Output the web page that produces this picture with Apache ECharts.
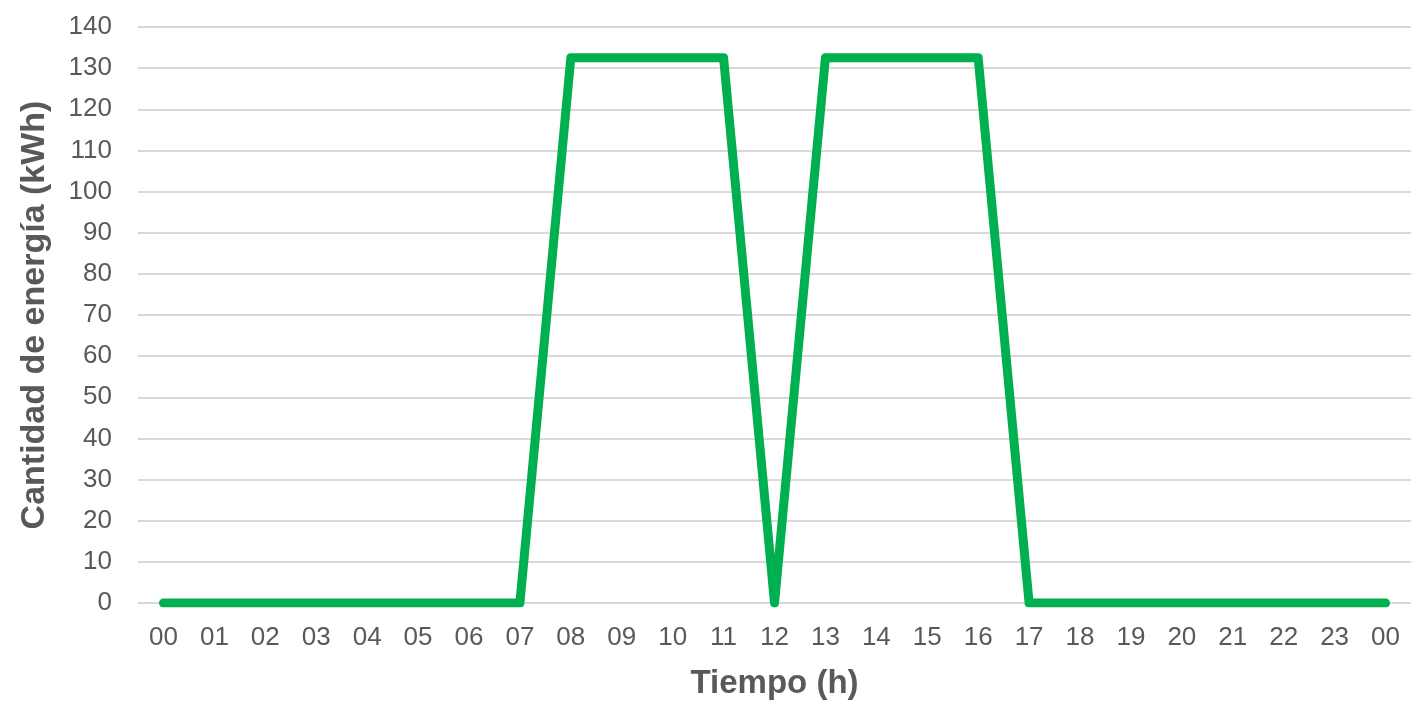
<!DOCTYPE html>
<html><head><meta charset="utf-8">
<script src="https://cdn.jsdelivr.net/npm/echarts@6/dist/echarts.min.js"></script>
<style>html,body{margin:0;padding:0;background:#fff}#c{width:1411px;height:705px}</style>
</head><body><div id="c"></div>
<script>
const categories = ['00','01','02','03','04','05','06','07','08','09','10','11','12','13','14','15','16','17','18','19','20','21','22','23','00'];
const energy = [0,0,0,0,0,0,0,0,132.5,132.5,132.5,132.5,0,132.5,132.5,132.5,132.5,0,0,0,0,0,0,0,0];
const yMin = 0, yMax = 140, yStep = 10;
const chart = echarts.init(document.getElementById('c'));
chart.setOption({
  animation:false,
  grid:{left:138,right:0,top:27,bottom:100},
  xAxis:{type:'category',data:categories,boundaryGap:true,
    axisLine:{show:false},axisTick:{show:false},
    axisLabel:{fontFamily:'Liberation Sans',fontSize:26,color:'#595959',margin:22},
    name:'Tiempo (h)',nameLocation:'middle',nameGap:64,
    nameTextStyle:{fontFamily:'Liberation Sans',fontSize:33,fontWeight:'bold',color:'#595959'}},
  yAxis:{type:'value',min:yMin,max:yMax,interval:yStep,
    axisLine:{show:false},axisTick:{show:false},
    splitLine:{lineStyle:{color:'#d9d9d9',width:2}},
    axisLabel:{fontFamily:'Liberation Sans',fontSize:26,color:'#595959',margin:26},
    name:'Cantidad de energía (kWh)',nameLocation:'middle',nameGap:86,
    nameTextStyle:{fontFamily:'Liberation Sans',fontSize:34,fontWeight:'bold',color:'#595959'}},
  series:[{type:'line',data:energy,symbol:'none',
    lineStyle:{color:'#00B050',width:9,join:'round',cap:'round'}}]
});
</script></body></html>
